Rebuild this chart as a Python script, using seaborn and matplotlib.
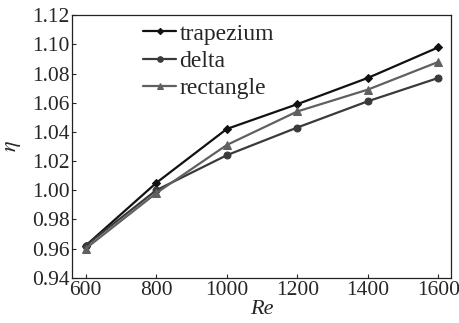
import matplotlib
matplotlib.use("Agg")
import matplotlib.pyplot as plt
import seaborn as sns
import pandas as pd

re_vals = [600, 800, 1000, 1200, 1400, 1600]
trapezium = [0.962, 1.005, 1.042, 1.059, 1.077, 1.098]
delta = [0.962, 1.000, 1.024, 1.043, 1.061, 1.077]
rectangle = [0.960, 0.998, 1.031, 1.054, 1.069, 1.088]
series_names = ["trapezium", "delta", "rectangle"]
y_ticks = [0.94, 0.96, 0.98, 1.00, 1.02, 1.04, 1.06, 1.08, 1.10, 1.12]
x_ticks = [600, 800, 1000, 1200, 1400, 1600]

sns.set_theme(style="ticks")
plt.rcParams['font.family'] = ['Liberation Serif', 'DejaVu Serif']
plt.rcParams['mathtext.fontset'] = 'stix'

df = pd.DataFrame({
    "Re": re_vals * 3,
    "eta": trapezium + delta + rectangle,
    "shape": [s for s in series_names for _ in re_vals],
})

fig, ax = plt.subplots(figsize=(4.6, 3.23), dpi=100)
fig.subplots_adjust(left=0.157, right=0.98, top=0.953, bottom=0.14)

palette = {"trapezium": "#111111", "delta": "#3a3a3a", "rectangle": "#606060"}
markers = {"trapezium": "D", "delta": "o", "rectangle": "^"}
sizes = {"trapezium": 4.0, "delta": 5.0, "rectangle": 5.5}
for name in series_names:
    sub = df[df["shape"] == name]
    sns.lineplot(data=sub, x="Re", y="eta", ax=ax, color=palette[name],
                 marker=markers[name], markersize=sizes[name], linewidth=1.6,
                 markeredgecolor=palette[name], label=name)

ax.set_xlim(562, 1635)
ax.set_ylim(0.94, 1.12)
ax.set_xticks(x_ticks)
ax.set_yticks(y_ticks)
ax.set_yticklabels([f"{v:.2f}" for v in y_ticks])
ax.tick_params(direction="in", length=3, width=0.8, labelsize=15.5, pad=2)
for sp in ax.spines.values():
    sp.set_linewidth(0.9)
    sp.set_color("#222222")
ax.set_xlabel("Re", fontsize=16, style="italic", labelpad=0)
ax.set_ylabel(r"$\eta$", fontsize=16, labelpad=6)

leg = ax.legend(loc="upper left", bbox_to_anchor=(0.187, 0.97), frameon=False,
                fontsize=17, handlelength=1.4, handletextpad=0.15,
                labelspacing=0.25, borderaxespad=0.0, borderpad=0.0,
                markerscale=0.8)

fig.savefig("out.png", dpi=100)
